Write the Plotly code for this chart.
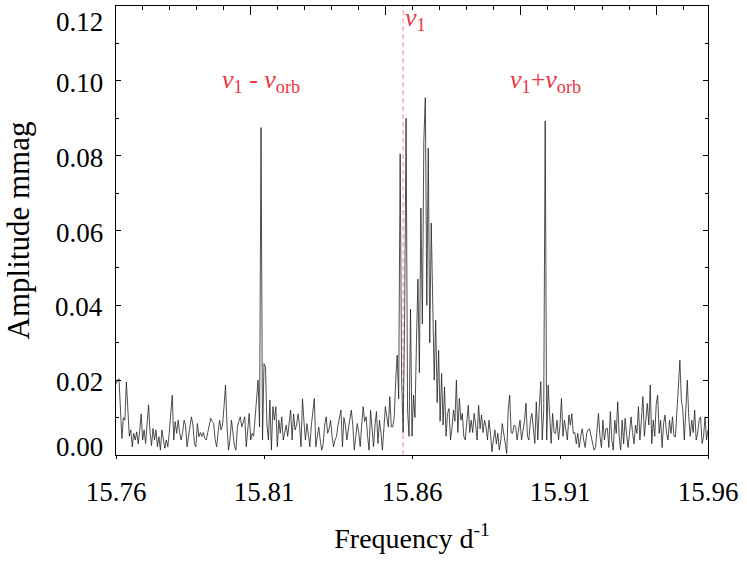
import plotly.graph_objects as go

# ---- data ----
freq_start = 15.76
freq_step = 0.0005
amplitude = [
    0.019, 0.020, 0.0204, 0.012, 0.0044, 0.010, 0.0093, 0.0195, 0.012, 0.005,
    0.0067, 0.0022, 0.0058, 0.004, 0.0062, 0.003, 0.0065, 0.011, 0.004, 0.0067,
    0.0031, 0.008, 0.0134, 0.006, 0.0025, 0.0071, 0.004, 0.0067, 0.0022, 0.0049,
    0.0013, 0.0067, 0.004, 0.0018, 0.004, 0.0022, 0.006, 0.012, 0.016, 0.004,
    0.0089, 0.0058, 0.0093, 0.006, 0.004, 0.006, 0.0093, 0.008, 0.0022, 0.005,
    0.008, 0.0102, 0.008, 0.003, 0.0022, 0.0084, 0.0049, 0.006, 0.0049, 0.006,
    0.0045, 0.004, 0.006, 0.008, 0.0098, 0.009, 0.0084, 0.004, 0.0022, 0.006,
    0.0093, 0.0067, 0.008, 0.013, 0.0187, 0.008, 0.0013, 0.004, 0.0093, 0.006,
    0.0025, 0.0013, 0.0075, 0.009, 0.0102, 0.0075, 0.009, 0.0102, 0.0022, 0.008,
    0.0111, 0.004, 0.0058, 0.005, 0.009, 0.015, 0.020, 0.0075, 0.0875, 0.004,
    0.0244, 0.0236, 0.008, 0.004, 0.0147, 0.0013, 0.0129, 0.0093, 0.0129, 0.0022,
    0.0093, 0.0058, 0.0102, 0.004, 0.006, 0.008, 0.005, 0.009, 0.012, 0.004,
    0.011, 0.0067, 0.008, 0.011, 0.008, 0.0022, 0.015, 0.009, 0.004, 0.0084,
    0.005, 0.0022, 0.008, 0.012, 0.0151, 0.0022, 0.005, 0.0075, 0.004, 0.0013,
    0.003, 0.008, 0.0102, 0.0058, 0.007, 0.0093, 0.005, 0.0022, 0.004, 0.0049,
    0.008, 0.010, 0.012, 0.0022, 0.010, 0.008, 0.004, 0.007, 0.010, 0.012,
    0.008, 0.0013, 0.005, 0.0084, 0.006, 0.0022, 0.008, 0.0129, 0.009, 0.0102,
    0.005, 0.0013, 0.012, 0.006, 0.0022, 0.008, 0.0116, 0.0031, 0.0093, 0.006,
    0.0013, 0.007, 0.0129, 0.0102, 0.0075, 0.0156, 0.0075, 0.0075, 0.0102, 0.020,
    0.0267, 0.015, 0.0805, 0.020, 0.006, 0.036, 0.090, 0.012, 0.005, 0.039,
    0.005, 0.016, 0.010, 0.030, 0.047, 0.022, 0.066, 0.035, 0.084, 0.0955,
    0.040, 0.082, 0.030, 0.062, 0.042, 0.020, 0.036, 0.014, 0.028, 0.009,
    0.0218, 0.008, 0.0182, 0.005, 0.0111, 0.0124, 0.004, 0.007, 0.012, 0.009,
    0.020, 0.006, 0.0151, 0.0093, 0.0111, 0.005, 0.004, 0.009, 0.0133, 0.006,
    0.0093, 0.006, 0.0111, 0.008, 0.004, 0.0133, 0.007, 0.0107, 0.006, 0.0093,
    0.0076, 0.004, 0.0093, 0.0058, 0.0009, 0.004, 0.0067, 0.003, 0.0058, 0.0013,
    0.004, 0.0084, 0.006, 0.003, 0.0004, 0.012, 0.016, 0.006, 0.0058, 0.008,
    0.0076, 0.004, 0.007, 0.0093, 0.004, 0.0067, 0.009, 0.0138, 0.005, 0.004,
    0.0093, 0.0111, 0.006, 0.0031, 0.0142, 0.004, 0.0129, 0.0196, 0.004, 0.012,
    0.0893, 0.004, 0.0187, 0.012, 0.0031, 0.0111, 0.006, 0.0058, 0.0093, 0.004,
    0.008, 0.0151, 0.005, 0.0093, 0.006, 0.004, 0.0107, 0.008, 0.011, 0.0058,
    0.006, 0.003, 0.0058, 0.002, 0.005, 0.007, 0.004, 0.002, 0.0058, 0.0067,
    0.007, 0.005, 0.004, 0.0013, 0.002, 0.006, 0.0111, 0.005, 0.002, 0.0093,
    0.004, 0.007, 0.0071, 0.002, 0.0116, 0.004, 0.0013, 0.0093, 0.0058, 0.0142,
    0.005, 0.0013, 0.0093, 0.003, 0.0098, 0.0055, 0.002, 0.0058, 0.0102, 0.006,
    0.003, 0.008, 0.0058, 0.0129, 0.004, 0.0093, 0.0156, 0.005, 0.0093, 0.0138,
    0.008, 0.0187, 0.003, 0.0093, 0.005, 0.0135, 0.016, 0.0058, 0.0093, 0.002,
    0.0084, 0.0107, 0.0058, 0.004, 0.0093, 0.0058, 0.0102, 0.005, 0.0049, 0.0129,
    0.0178, 0.0253, 0.0147, 0.012, 0.004, 0.012, 0.020, 0.0102, 0.005, 0.0093,
    0.006, 0.012, 0.004, 0.0058, 0.0093, 0.0102, 0.0031, 0.0049, 0.0102, 0.004,
    0.0067,
]
frequency = [round(freq_start + freq_step * i, 4) for i in range(len(amplitude))]

nu1 = 15.857          # main frequency (dashed line)
nu1_minus_orb = 15.809
nu1_plus_orb = 15.905

x_tick_vals = [15.76, 15.81, 15.86, 15.91, 15.96]
x_tick_text = ["15.76", "15.81", "15.86", "15.91", "15.96"]
y_tick_vals = [0.00, 0.02, 0.04, 0.06, 0.08, 0.10, 0.12]
y_tick_text = ["0.00", "0.02", "0.04", "0.06", "0.08", "0.10", "0.12"]

# top axis tick spacing (unlabelled secondary scale)
top_tick0 = 15.8054
top_major = 0.04569
top_minor = 0.009138

FONT = "Liberation Serif, Times New Roman, serif"
RED = "#ec3440"

fig = go.Figure()
fig.add_trace(go.Scatter(
    x=frequency, y=amplitude, mode="lines",
    line=dict(color="#222222", width=0.8),
    hoverinfo="skip", showlegend=False,
))
fig.add_trace(go.Scatter(
    x=[x_tick_vals[0], x_tick_vals[-1]], y=[None, None], xaxis="x2",
    mode="lines", hoverinfo="skip", showlegend=False,
))

fig.add_vline(x=nu1, line=dict(color="#f3a3ab", width=1.2, dash="5px,3px"), layer="below")

fig.update_layout(
    width=747, height=561,
    margin=dict(l=116, r=39, t=6, b=106, pad=0, autoexpand=False),
    paper_bgcolor="white", plot_bgcolor="white",
    font=dict(family=FONT, size=27, color="black"),
    xaxis=dict(
        range=[x_tick_vals[0], x_tick_vals[-1]],
        tickvals=x_tick_vals, ticktext=x_tick_text,
        ticks="outside", ticklen=3, tickwidth=1, tickcolor="black",
        showline=True, linecolor="black", linewidth=1, mirror=True,
        showgrid=False, zeroline=False,
        tickfont=dict(family=FONT, size=27),
        ticklabelstandoff=10,
        title=dict(text="Frequency d<sup>-1</sup>", font=dict(family=FONT, size=28), standoff=21),
    ),
    xaxis2=dict(
        overlaying="x", side="top",
        range=[x_tick_vals[0], x_tick_vals[-1]],
        tick0=top_tick0, dtick=top_major,
        ticks="inside", ticklen=9, tickwidth=1, tickcolor="black",
        minor=dict(tick0=top_tick0, dtick=top_minor, ticks="inside", ticklen=4,
                   tickwidth=1, tickcolor="black"),
        showticklabels=False, showgrid=False, zeroline=False, showline=False,
    ),
    yaxis=dict(
        range=[y_tick_vals[0], y_tick_vals[-1]],
        tickvals=y_tick_vals,
        ticks="inside", ticklen=5, tickwidth=1, tickcolor="black",
        minor=dict(dtick=0.01, tick0=0, ticks="inside", ticklen=3, tickwidth=1,
                   tickcolor="black"),
        showline=True, linecolor="black", linewidth=1, mirror="ticks",
        showgrid=False, zeroline=False, showticklabels=False,
        title=dict(text="Amplitude mmag", font=dict(family=FONT, size=31), standoff=76),
    ),
)

# y tick labels as text (end labels pulled inside like the reference)
for v, t in zip(y_tick_vals, y_tick_text):
    shift = 0
    if v == y_tick_vals[-1]:
        shift = -14
    elif v == y_tick_vals[0]:
        shift = 10
    fig.add_annotation(
        x=0, xref="paper", y=v, yref="y", text=t, showarrow=False,
        xanchor="right", yanchor="middle", xshift=-11, yshift=shift - 2,
        font=dict(family=FONT, size=27, color="black"),
    )

fig.add_annotation(x=nu1_minus_orb, y=0.1, xref="x", yref="y",
                   text="<i>ν</i><sub>1</sub> - <i>ν</i><sub>orb</sub>", showarrow=False,
                   font=dict(family=FONT, size=26, color=RED))
fig.add_annotation(x=nu1_plus_orb, y=0.1, xref="x", yref="y",
                   text="<i>ν</i><sub>1</sub>+<i>ν</i><sub>orb</sub>", showarrow=False,
                   font=dict(family=FONT, size=26, color=RED))
fig.add_annotation(x=nu1, y=0.1165, xref="x", yref="y", xanchor="left",
                   text="<i>ν</i><sub>1</sub>", showarrow=False,
                   font=dict(family=FONT, size=26, color=RED))

fig.write_html("out.html", post_script="document.body.style.margin='0px';",
               config={"displayModeBar": False})
